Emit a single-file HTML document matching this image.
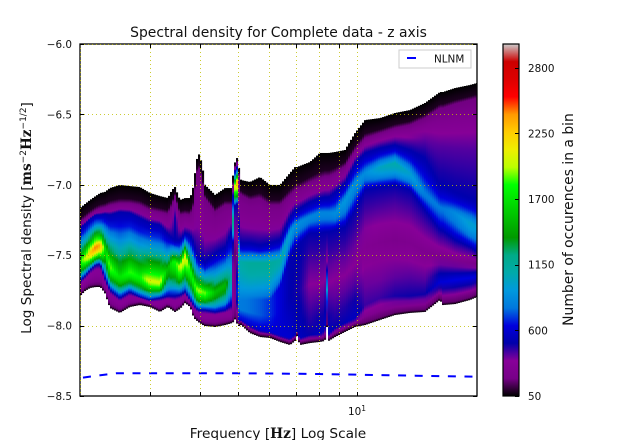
<!DOCTYPE html>
<html lang="en">
<head>
<meta charset="utf-8">
<title>Spectral density for Complete data - z axis</title>
<style>
html,body{margin:0;padding:0;background:#fff;width:640px;height:440px;overflow:hidden}
svg{display:block}
text{font-family:"DejaVu Sans","Liberation Sans",sans-serif;fill:#111}
.m{font-family:"DejaVu Serif","Liberation Serif",serif;font-weight:bold}
</style>
</head>
<body>
<svg id="fig" xmlns="http://www.w3.org/2000/svg" width="640" height="440" viewBox="0 0 640 440">
  <rect x="0" y="0" width="640" height="440" fill="#fff"/>
  <defs id="defs">
    <clipPath id="plot-clip"><rect x="80" y="44" width="397" height="352"/></clipPath>
    <linearGradient id="cbar-gradient" x1="0" y1="1" x2="0" y2="0"></linearGradient>
  </defs>
  <g id="heat" clip-path="url(#plot-clip)"></g>
  <g id="nlnm" clip-path="url(#plot-clip)"></g>
  <rect x="80" y="44" width="397" height="352" fill="none" stroke="#000" stroke-width="1.3"/>
  <g id="grid"></g>
  <g id="ticks"></g>
  <text x="278.5" y="37" text-anchor="middle" font-size="13.9">Spectral density for Complete data - z axis</text>
  <text x="278" y="438" text-anchor="middle" font-size="13.7" xml:space="preserve">Frequency [<tspan class="m">Hz</tspan>] Log Scale</text>
  <text transform="translate(31,218) rotate(-90)" text-anchor="middle" font-size="13.6" xml:space="preserve">Log Spectral density [<tspan class="m">ms</tspan><tspan font-size="9" dy="-5">−2</tspan><tspan class="m" dy="5">Hz</tspan><tspan font-size="9" dy="-5">−1/2</tspan><tspan dy="5">]</tspan></text>
  <g>
    <rect x="399" y="50" width="72" height="18" fill="#fff" stroke="#ccc" stroke-width="1"/>
    <line x1="407" y1="58" x2="416" y2="58" stroke="#00f" stroke-width="2"/>
    <text x="434" y="62.5" font-size="10.4">NLNM</text>
  </g>
  <g id="cbar">
    <rect x="503" y="44" width="16" height="352" fill="url(#cbar-gradient)" stroke="#000" stroke-width="1.2"/>
  </g>
  <text transform="translate(573,219.5) rotate(-90)" text-anchor="middle" font-size="13.9">Number of occurences in a bin</text>
</svg>
<script>
// Frequency of each read-off column, Hz
var freqs = [2.00,2.06,2.12,2.19,2.25,2.31,2.38,2.52,2.67,2.83,3.00,3.18,3.33,3.41,3.47,3.57,3.68,3.79,3.87,3.92,3.97,4.01,4.08,4.13,4.38,4.64,4.83,4.87,4.94,4.98,5.03,5.09,5.36,5.68,6.02,6.38,6.76,6.96,7.04,7.16,7.59,8.04,8.28,8.31,8.43,8.46,8.78,9.30,9.86,10.45,11.40,12.43,13.56,14.79,16.14,16.42,17.60,19.21,20.00];
// Log spectral density levels of the band boundaries in each column
var edgeTop = [-7.165,-7.136,-7.108,-7.080,-7.058,-7.051,-7.023,-7.001,-7.009,-7.016,-7.058,-7.080,-7.094,-7.037,-7.016,-7.108,-7.094,-7.094,-7.001,-6.845,-6.781,-6.788,-6.895,-7.001,-7.072,-7.023,-7.023,-6.895,-6.810,-6.810,-6.881,-6.966,-6.980,-6.945,-7.001,-7.001,-6.916,-6.874,-6.874,-6.866,-6.838,-6.774,-6.774,-6.774,-6.774,-6.774,-6.767,-6.753,-6.632,-6.540,-6.526,-6.490,-6.469,-6.419,-6.341,-6.341,-6.313,-6.291,-6.277];
var purpleTop = [-7.264,-7.236,-7.207,-7.179,-7.165,-7.158,-7.143,-7.129,-7.129,-7.143,-7.179,-7.193,-7.207,-7.143,-7.080,-7.214,-7.207,-7.214,-7.143,-6.930,-6.881,-6.895,-7.001,-7.094,-7.193,-7.143,-7.143,-6.930,-6.838,-6.838,-6.930,-7.072,-7.108,-7.094,-7.143,-7.143,-7.072,-7.037,-7.023,-7.023,-6.980,-6.952,-6.938,-6.938,-6.938,-6.938,-6.916,-6.866,-6.753,-6.668,-6.632,-6.597,-6.575,-6.526,-6.455,-6.455,-6.426,-6.398,-6.384];
var ridgeTop = [-7.307,-7.278,-7.243,-7.214,-7.214,-7.207,-7.214,-7.193,-7.200,-7.236,-7.271,-7.285,-7.349,-7.378,-7.392,-7.392,-7.342,-7.357,-7.413,-7.477,-7.520,-7.520,-7.534,-7.548,-7.484,-7.442,-7.321,-6.966,-6.859,-6.881,-7.285,-7.413,-7.413,-7.428,-7.413,-7.392,-7.229,-7.179,-7.179,-7.165,-7.122,-7.094,-7.087,-7.087,-7.087,-7.087,-7.051,-6.987,-6.845,-6.774,-6.739,-6.717,-6.753,-6.810,-7.001,-7.001,-7.051,-7.094,-7.108];
var ridgeMid = [-7.548,-7.520,-7.484,-7.442,-7.428,-7.449,-7.584,-7.655,-7.619,-7.655,-7.676,-7.690,-7.591,-7.548,-7.548,-7.584,-7.499,-7.605,-7.690,-7.733,-7.747,-7.754,-7.761,-7.768,-7.761,-7.712,-7.641,-7.072,-6.966,-6.980,-7.499,-7.548,-7.555,-7.555,-7.555,-7.534,-7.342,-7.285,-7.285,-7.264,-7.229,-7.200,-7.200,-7.200,-7.200,-7.200,-7.200,-7.108,-6.987,-6.916,-6.874,-6.845,-6.916,-7.058,-7.158,-7.165,-7.200,-7.271,-7.300];
var ridgeBottom = [-7.683,-7.648,-7.605,-7.570,-7.563,-7.662,-7.747,-7.804,-7.761,-7.797,-7.818,-7.804,-7.790,-7.790,-7.790,-7.783,-7.761,-7.818,-7.854,-7.875,-7.889,-7.889,-7.889,-7.889,-7.903,-7.889,-7.854,-7.214,-7.108,-7.143,-7.783,-7.818,-7.818,-7.818,-7.818,-7.726,-7.513,-7.442,-7.442,-7.413,-7.342,-7.342,-7.335,-7.335,-7.335,-7.335,-7.321,-7.300,-7.179,-7.037,-7.016,-7.001,-7.037,-7.179,-7.321,-7.328,-7.392,-7.442,-7.477];
var lowBand = [-7.726,-7.690,-7.662,-7.641,-7.641,-7.712,-7.804,-7.854,-7.818,-7.818,-7.847,-7.854,-7.832,-7.847,-7.854,-7.840,-7.804,-7.840,-7.903,-7.918,-7.932,-7.932,-7.946,-7.946,-7.946,-7.932,-7.932,-7.818,-7.818,-7.747,-7.960,-7.960,-7.996,-8.031,-8.045,-8.067,-8.088,-8.067,-8.045,-8.088,-8.067,-8.060,-8.031,-7.747,-7.747,-8.060,-8.017,-7.982,-7.946,-7.854,-7.804,-7.790,-7.790,-7.776,-7.690,-7.690,-7.676,-7.662,-7.648];
var edgeBottom = [-7.790,-7.754,-7.733,-7.726,-7.726,-7.768,-7.875,-7.910,-7.868,-7.854,-7.868,-7.903,-7.868,-7.889,-7.903,-7.882,-7.840,-7.868,-7.946,-7.960,-7.974,-7.982,-7.996,-8.003,-8.010,-7.996,-7.982,-7.974,-7.946,-7.996,-8.003,-7.996,-8.053,-8.081,-8.088,-8.116,-8.138,-8.109,-8.074,-8.138,-8.124,-8.116,-8.109,-8.010,-8.010,-8.109,-8.081,-8.045,-8.010,-7.996,-7.960,-7.925,-7.910,-7.903,-7.818,-7.854,-7.847,-7.818,-7.797];
// Occurrence counts at those levels
var upperCount = [280,280,280,280,280,280,280,280,280,280,280,280,280,320,470,280,280,280,280,280,280,280,280,280,280,280,280,280,280,280,280,280,280,280,280,280,280,280,280,280,280,280,280,280,280,280,290,300,310,320,330,330,350,380,400,400,400,400,400];
var ridgePeak = [1800,2000,2250,2450,2350,1700,1900,1700,1850,1800,2050,2050,1500,1750,1800,2000,2100,1800,1800,1900,1950,1950,1900,1900,1550,1500,1050,1300,2550,2300,1000,1100,1150,1150,1150,1100,950,880,880,870,850,850,850,850,850,850,880,920,880,880,1020,1080,980,820,800,800,870,980,950];
var valleyCount = [350,350,340,320,320,330,320,320,320,320,320,320,320,320,320,320,320,320,320,320,320,320,320,320,320,320,320,300,100,300,800,800,780,750,700,620,500,480,480,470,340,340,340,340,340,340,330,330,320,280,260,240,260,250,250,250,250,230,220];
var lowBandCount = [300,300,300,300,300,300,300,300,300,300,300,300,300,300,300,300,300,300,300,300,300,300,300,300,300,300,300,300,200,800,600,600,600,600,600,600,600,550,500,550,500,550,550,950,950,550,500,520,560,430,430,470,480,480,620,620,640,640,620];
// NLNM reference curve
var nlnmFreqs = [2.00,2.25,2.47,3.00,4.00,5.00,6.00,8.00,10.00,14.00,20.00];
var nlnmValues = [-8.372,-8.353,-8.339,-8.339,-8.339,-8.339,-8.340,-8.344,-8.349,-8.356,-8.363];
// Tick labels
var yTicks = [-6.0,-6.5,-7.0,-7.5,-8.0,-8.5];
var xTicks = [3,4,5,6,7,8,9,10];
var cbarTicks = [50,600,1150,1700,2250,2800];
// Colormap control colours, evenly spaced from low to high count
var cmapColors = [[0,0,0],[119,0,136],[136,0,153],[0,0,170],[0,0,221],[0,119,221],[0,153,221],[0,170,170],[0,170,136],[0,153,0],[0,187,0],[0,221,0],[0,255,0],[187,255,0],[238,238,0],[255,204,0],[255,153,0],[255,0,0],[221,0,0],[204,0,0],[204,204,204]];

var NS = 'http://www.w3.org/2000/svg';
var plot = {left:80,right:477,top:44,bottom:396};
var cbarBox = {top:44,bottom:396,left:503,right:519};
var countMin = 50, countMax = 3000;
function xScale(f){return plot.left+(plot.right-plot.left)*(Math.log(f/2)/Math.LN10);}
function yScale(v){return plot.top+(v+6)/(-2.5)*(plot.bottom-plot.top);}
function cScale(c){return cbarBox.bottom-(c-countMin)/(countMax-countMin)*(cbarBox.bottom-cbarBox.top);}
function cmap(c){
  var t=Math.max(0,Math.min(1,(c-countMin)/(countMax-countMin)))*(cmapColors.length-1);
  var i=Math.min(cmapColors.length-2,Math.floor(t)),u=t-i,a=cmapColors[i],b=cmapColors[i+1];
  return 'rgb('+Math.round(a[0]+(b[0]-a[0])*u)+','+Math.round(a[1]+(b[1]-a[1])*u)+','+Math.round(a[2]+(b[2]-a[2])*u)+')';
}
function mk(tag,attrs,parent){
  var e=document.createElementNS(NS,tag);
  for(var k in attrs){e.setAttribute(k,attrs[k]);}
  if(parent){parent.appendChild(e);}
  return e;
}
function sampleAt(arr,x){
  var i=0;
  while(i<freqs.length-2 && xScale(freqs[i+1])<x){i++;}
  var x0=xScale(freqs[i]),x1=xScale(freqs[i+1]);
  var u=Math.max(0,Math.min(1,(x-x0)/(x1-x0)));
  return arr[i]+(arr[i+1]-arr[i])*u;
}

var heat=document.getElementById('heat'),defs=document.getElementById('defs');
var colStep=2;
for(var cx=plot.left,n=0;cx<plot.right;cx+=colStep,n++){
  var mid=cx+colStep/2;
  var yT=yScale(sampleAt(edgeTop,mid)),yP=yScale(sampleAt(purpleTop,mid)),yR=yScale(sampleAt(ridgeTop,mid)),
      yM=yScale(sampleAt(ridgeMid,mid)),yB=yScale(sampleAt(ridgeBottom,mid)),yL=yScale(sampleAt(lowBand,mid)),yE=yScale(sampleAt(edgeBottom,mid));
  var cU=sampleAt(upperCount,mid),cP=sampleAt(ridgePeak,mid),cV=sampleAt(valleyCount,mid),cL=sampleAt(lowBandCount,mid);
  // piecewise profile: [y, count, segment shape]
  var knots=[[yT,50,'l'],[yT+(yP-yT)*0.75,85,'l'],[yP,190,'l'],[(yP+yR)/2,cU,'l'],[yR,500,'l'],[yM,cP,'up'],[yB,Math.max(500,cV),'down'],[(yB+yL)/2,cV,'l'],[yL,cL,'l'],[yE-2.5,170,'l'],[yE,50,'l']];
  var id='col-grad-'+n;
  var g=mk('linearGradient',{id:id,gradientUnits:'userSpaceOnUse',x1:0,x2:0,y1:yT,y2:yE},defs);
  var span=Math.max(1,yE-yT);
  for(var k=0;k<knots.length-1;k++){
    var p=knots[k],q=knots[k+1];
    var shape=q[2];
    var subs=(shape==='l')?3:9;
    for(var s=0;s<subs;s++){
      var u=s/subs,yy=p[0]+(q[0]-p[0])*u,cc;
      if(shape==='up'){cc=p[1]+(q[1]-p[1])*Math.pow(u,1.4);}
      else if(shape==='down'){cc=q[1]+(p[1]-q[1])*(1-Math.pow(u,1.6));}
      else{cc=p[1]+(q[1]-p[1])*u;}
      mk('stop',{offset:Math.max(0,Math.min(1,(yy-yT)/span)),'stop-color':cmap(cc)},g);
    }
  }
  mk('stop',{offset:1,'stop-color':cmap(50)},g);
  var col=mk('rect',{x:cx,y:yT,width:colStep+0.1,height:yE-yT,fill:'url(#'+id+')'},heat);
  
  
}

var nlnmPts=nlnmFreqs.map(function(f,i){return xScale(f).toFixed(1)+','+yScale(nlnmValues[i]).toFixed(1);}).join(' ');
var nlnmLine=mk('polyline',{points:nlnmPts,fill:'none',stroke:'#00f','stroke-width':2,'stroke-dasharray':'8 8.6','stroke-dashoffset':-3},document.getElementById('nlnm'));



var grid=document.getElementById('grid'),ticks=document.getElementById('ticks');
var fig=document.getElementById('fig');
var gridStyle={stroke:'#bfbf00','stroke-width':1,'stroke-dasharray':'1 3','stroke-opacity':0.8};
function lineAttrs(a,b){var o={};for(var k in a){o[k]=a[k];}for(var j in b){o[j]=b[j];}return o;}
[2].concat(xTicks).forEach(function(f){
  var x=Math.round(xScale(f))+0.5;
  var gl=mk('line',lineAttrs({x1:x,x2:x,y1:plot.top,y2:plot.bottom},gridStyle),grid);
  
  
});
xTicks.forEach(function(f){
  var x=Math.round(xScale(f))+0.5;
  var t1=mk('line',{x1:x,x2:x,y1:plot.bottom,y2:plot.bottom-4,stroke:'#000','stroke-width':1},ticks);
  
  
  var t2=mk('line',{x1:x,x2:x,y1:plot.top,y2:plot.top+4,stroke:'#000','stroke-width':1},ticks);
  
  
});
yTicks.forEach(function(v){
  var y=Math.round(yScale(v))+0.5;
  if(v>-8.5){
    var gl=mk('line',lineAttrs({x1:plot.left,x2:plot.right,y1:y,y2:y},gridStyle),grid);
    
    
  }
  var t1=mk('line',{x1:plot.left,x2:plot.left+4,y1:y,y2:y,stroke:'#000','stroke-width':1},ticks);
  
  
  var t2=mk('line',{x1:plot.right,x2:plot.right-4,y1:y,y2:y,stroke:'#000','stroke-width':1},ticks);
  
  
  var lbl=mk('text',{x:72,y:yScale(v)+4,'text-anchor':'end','font-size':10.4},fig);
  lbl.textContent='\u2212'+Math.abs(v).toFixed(1);
  
  
});
var xl=mk('text',{x:348,y:415,'font-size':10.4},fig);
xl.textContent='10';


var xs=mk('tspan',{dy:-4,'font-size':7.5},xl);
xs.textContent='1';

var cg=document.getElementById('cbar-gradient');
cmapColors.forEach(function(c,i){
  mk('stop',{offset:i/(cmapColors.length-1),'stop-color':'rgb('+c[0]+','+c[1]+','+c[2]+')'},cg);
});
var cbar=document.getElementById('cbar');
cbarTicks.forEach(function(c){
  var y=Math.round(cScale(c))+0.5;
  var t=mk('line',{x1:cbarBox.right-4,x2:cbarBox.right,y1:y,y2:y,stroke:'#000','stroke-width':1},cbar);
  
  
  var l=mk('text',{x:528,y:cScale(c)+4,'font-size':10.4},cbar);
  l.textContent=String(c);
  
  
});
</script>
</body>
</html>
